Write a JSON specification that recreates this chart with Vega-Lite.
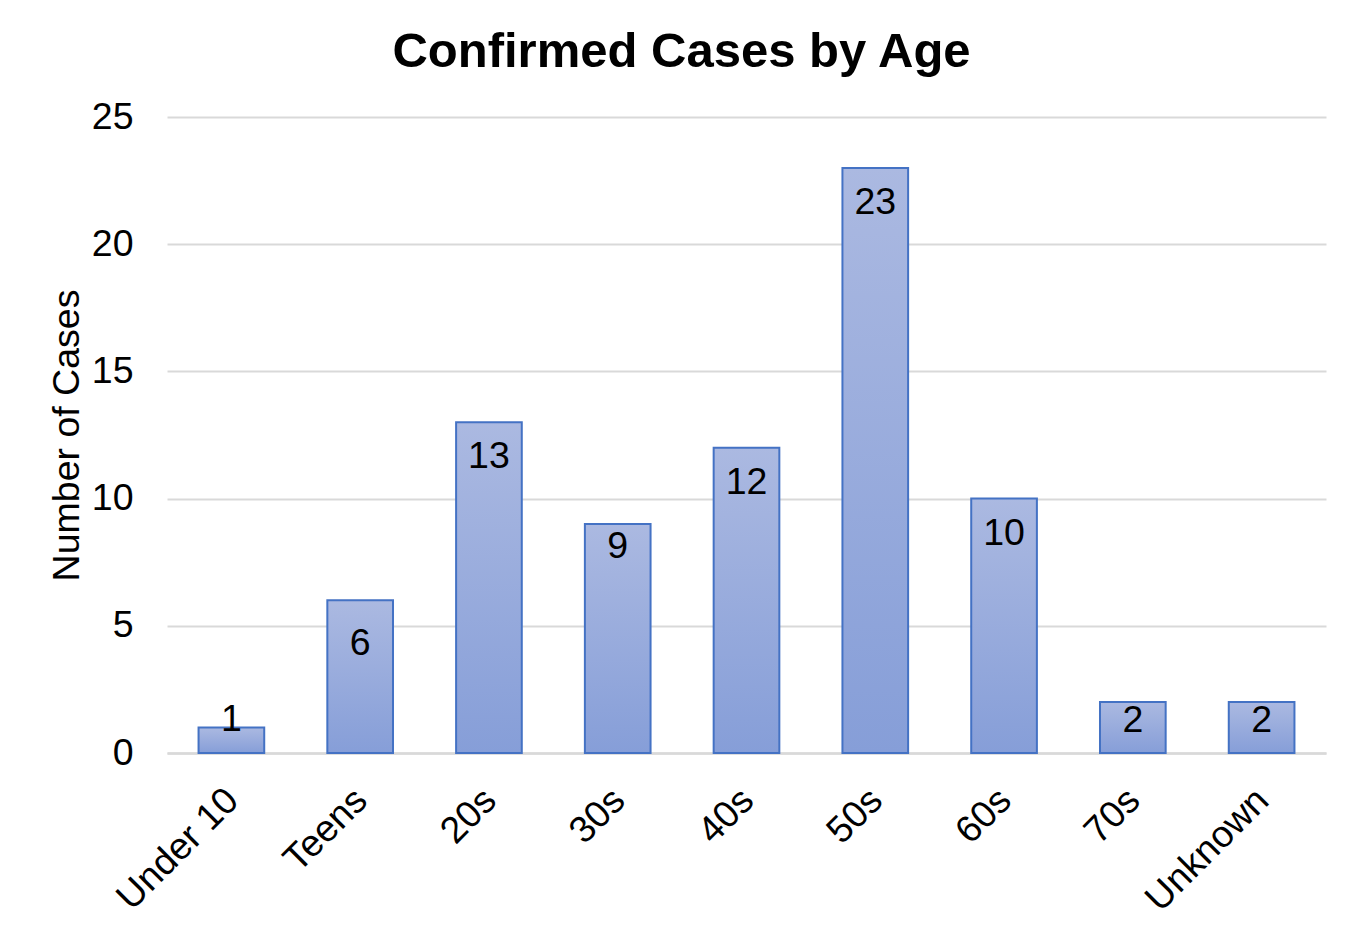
{
  "$schema": "https://vega.github.io/schema/vega-lite/v6.json",
  "width": 1159,
  "height": 636,
  "autosize": "none",
  "padding": {"left": 167, "top": 117, "right": 32, "bottom": 184},
  "background": "white",
  "config": {
    "font": "Liberation Sans",
    "view": {"stroke": null}
  },
  "title": {
    "text": "Confirmed Cases by Age",
    "fontSize": 49,
    "fontWeight": "bold",
    "color": "#000000",
    "anchor": "middle",
    "frame": "group",
    "dx": -65,
    "offset": 21
  },
  "data": {
    "values": [
      {"age": "Under 10", "cases": 1},
      {"age": "Teens", "cases": 6},
      {"age": "20s", "cases": 13},
      {"age": "30s", "cases": 9},
      {"age": "40s", "cases": 12},
      {"age": "50s", "cases": 23},
      {"age": "60s", "cases": 10},
      {"age": "70s", "cases": 2},
      {"age": "Unknown", "cases": 2}
    ]
  },
  "encoding": {
    "x": {
      "field": "age",
      "type": "nominal",
      "sort": null,
      "scale": {"paddingInner": 0.49, "paddingOuter": 0.245},
      "axis": {
        "title": null,
        "labelAngle": -45,
        "labelAlign": "right",
        "labelBaseline": "top",
        "labelFontSize": 37.5,
        "labelColor": "#000000",
        "labelPadding": 28,
        "labelOffset": -12,
        "ticks": false,
        "domain": true,
        "domainColor": "#d9d9d9",
        "domainWidth": 2.5,
        "grid": false
      }
    },
    "y": {
      "field": "cases",
      "type": "quantitative",
      "scale": {"domain": [0, 25]},
      "axis": {
        "title": "Number of Cases",
        "titleFontSize": 37.5,
        "titleFontWeight": "normal",
        "titleColor": "#000000",
        "titlePadding": 5,
        "values": [0, 5, 10, 15, 20, 25],
        "labelFontSize": 37.5,
        "labelColor": "#000000",
        "labelPadding": 34,
        "ticks": false,
        "domain": false,
        "grid": true,
        "gridColor": "#d9d9d9",
        "gridWidth": 2
      }
    }
  },
  "layer": [
    {
      "mark": {
        "type": "bar",
        "stroke": "#4472c4",
        "strokeWidth": 2,
        "color": {
          "gradient": "linear",
          "x1": 0, "y1": 0, "x2": 0, "y2": 1,
          "stops": [
            {"offset": 0, "color": "#abb9e1"},
            {"offset": 1, "color": "#869ed8"}
          ]
        }
      }
    },
    {
      "transform": [{"filter": "datum.cases !== 1 && datum.cases !== 2 && datum.cases !== 6 && datum.cases !== 9"}],
      "mark": {"type": "text", "fontSize": 37.5, "color": "#000000", "baseline": "middle", "align": "center", "dy": 35},
      "encoding": {"text": {"field": "cases", "type": "quantitative"}}
    },
    {
      "transform": [{"filter": "datum.cases === 1"}],
      "mark": {"type": "text", "fontSize": 37.5, "color": "#000000", "baseline": "middle", "align": "center", "dy": -8},
      "encoding": {"text": {"field": "cases", "type": "quantitative"}}
    },
    {
      "transform": [{"filter": "datum.cases === 2"}],
      "mark": {"type": "text", "fontSize": 37.5, "color": "#000000", "baseline": "middle", "align": "center", "dy": 19},
      "encoding": {"text": {"field": "cases", "type": "quantitative"}}
    },
    {
      "transform": [{"filter": "datum.cases === 6"}],
      "mark": {"type": "text", "fontSize": 37.5, "color": "#000000", "baseline": "middle", "align": "center", "dy": 44},
      "encoding": {"text": {"field": "cases", "type": "quantitative"}}
    },
    {
      "transform": [{"filter": "datum.cases === 9"}],
      "mark": {"type": "text", "fontSize": 37.5, "color": "#000000", "baseline": "middle", "align": "center", "dy": 23},
      "encoding": {"text": {"field": "cases", "type": "quantitative"}}
    }
  ]
}
